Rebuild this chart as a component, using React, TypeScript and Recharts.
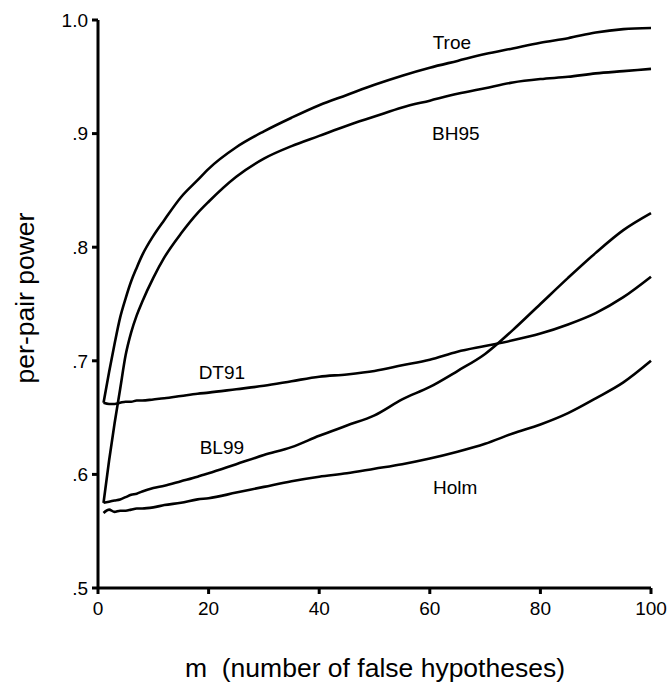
import { Label, Line, LineChart, ReferenceDot, XAxis, YAxis } from "recharts";

const mValues = [1, 2, 3, 4, 5, 6, 7, 8, 10, 12, 15, 18, 20, 25, 30, 35, 40, 45, 50, 55, 60, 65, 70, 75, 80, 85, 90, 95, 100];

const troe = [0.663, 0.69, 0.715, 0.738, 0.755, 0.77, 0.782, 0.793, 0.81, 0.824, 0.844, 0.859, 0.869, 0.888, 0.902, 0.914, 0.925, 0.934, 0.943, 0.951, 0.958, 0.964, 0.97, 0.975, 0.98, 0.984, 0.989, 0.992, 0.993];
const bh95 = [0.575, 0.612, 0.645, 0.675, 0.705, 0.725, 0.74, 0.752, 0.773, 0.791, 0.812, 0.83, 0.84, 0.862, 0.878, 0.889, 0.898, 0.907, 0.915, 0.923, 0.929, 0.935, 0.94, 0.945, 0.948, 0.95, 0.953, 0.955, 0.957];
const dt91 = [0.663, 0.662, 0.662, 0.663, 0.664, 0.664, 0.665, 0.665, 0.666, 0.667, 0.669, 0.671, 0.672, 0.675, 0.678, 0.682, 0.686, 0.688, 0.691, 0.696, 0.701, 0.708, 0.713, 0.718, 0.724, 0.732, 0.742, 0.756, 0.774];
const bl99 = [0.575, 0.576, 0.577, 0.578, 0.58, 0.582, 0.583, 0.585, 0.588, 0.59, 0.594, 0.598, 0.601, 0.609, 0.617, 0.624, 0.634, 0.643, 0.652, 0.666, 0.677, 0.691, 0.706, 0.727, 0.75, 0.773, 0.795, 0.815, 0.83];
const holm = [0.566, 0.569, 0.567, 0.568, 0.568, 0.569, 0.57, 0.57, 0.571, 0.573, 0.575, 0.578, 0.579, 0.584, 0.589, 0.594, 0.598, 0.601, 0.605, 0.609, 0.614, 0.62, 0.627, 0.636, 0.644, 0.654, 0.667, 0.681, 0.7];

const xTicks = [0, 20, 40, 60, 80, 100];
const yTicks = [0.5, 0.6, 0.7, 0.8, 0.9, 1.0];

// curve labels placed in data coordinates
const labelNames = ["Troe", "BH95", "DT91", "BL99", "Holm"];
const labelM = [64, 64.7, 22.4, 22.4, 64.6];
const labelV = [0.9805, 0.9, 0.69, 0.624, 0.589];

const FONT = "'Liberation Sans', Arial, sans-serif";

const data = mValues.map((m, i) => ({
  m,
  troe: troe[i],
  bh95: bh95[i],
  dt91: dt91[i],
  bl99: bl99[i],
  holm: holm[i],
}));

const seriesKeys = ["troe", "bh95", "dt91", "bl99", "holm"];

const fmtY = (v: number) => (v === 1 ? "1.0" : v.toFixed(1).replace(/^0/, ""));

const axisStyle = { stroke: "#000", strokeWidth: 3 };

export default function App() {
  return (
    <div style={{ position: "absolute", left: 0, top: 0, background: "#fff" }}>
      <LineChart
        width={667}
        height={694}
        data={data}
        margin={{ top: 20, right: 16, bottom: 66, left: 38 }}
        style={{ fontFamily: FONT }}
      >
        <XAxis
          dataKey="m"
          type="number"
          domain={[0, 100]}
          ticks={xTicks}
          height={40}
          axisLine={axisStyle}
          tickLine={axisStyle}
          tickSize={6}
          tickMargin={8}
          tick={{ fill: "#000", fontSize: 19, fontFamily: FONT }}
        >
          <Label
            content={() => (
              <text x={375} y={668} textAnchor="middle" dominantBaseline="central" fontSize={26.5} fontFamily={FONT} fill="#000">
                m{"\u00a0\u00a0"}(number of false hypotheses)
              </text>
            )}
          />
        </XAxis>
        <YAxis
          type="number"
          domain={[0.5, 1]}
          ticks={yTicks}
          width={60}
          axisLine={axisStyle}
          tickLine={axisStyle}
          tickSize={6}
          tickMargin={4}
          tickFormatter={fmtY}
          tick={{ fill: "#000", fontSize: 19, fontFamily: FONT }}
        >
          <Label
            content={() => (
              <text
                x={25}
                y={298}
                transform="rotate(-90 25 298)"
                textAnchor="middle"
                dominantBaseline="central"
                fontSize={26.5}
                fontFamily={FONT}
                fill="#000"
              >
                per-pair power
              </text>
            )}
          />
        </YAxis>
        {seriesKeys.map((k) => (
          <Line
            key={k}
            dataKey={k}
            type="monotone"
            stroke="#000"
            strokeWidth={2.6}
            dot={false}
            isAnimationActive={false}
          />
        ))}
        {labelNames.map((name, i) => (
          <ReferenceDot
            key={name}
            x={labelM[i]}
            y={labelV[i]}
            r={0}
            fill="none"
            stroke="none"
            label={{ value: name, position: "center", fill: "#000", fontSize: 19, fontFamily: FONT }}
          />
        ))}
      </LineChart>
    </div>
  );
}
